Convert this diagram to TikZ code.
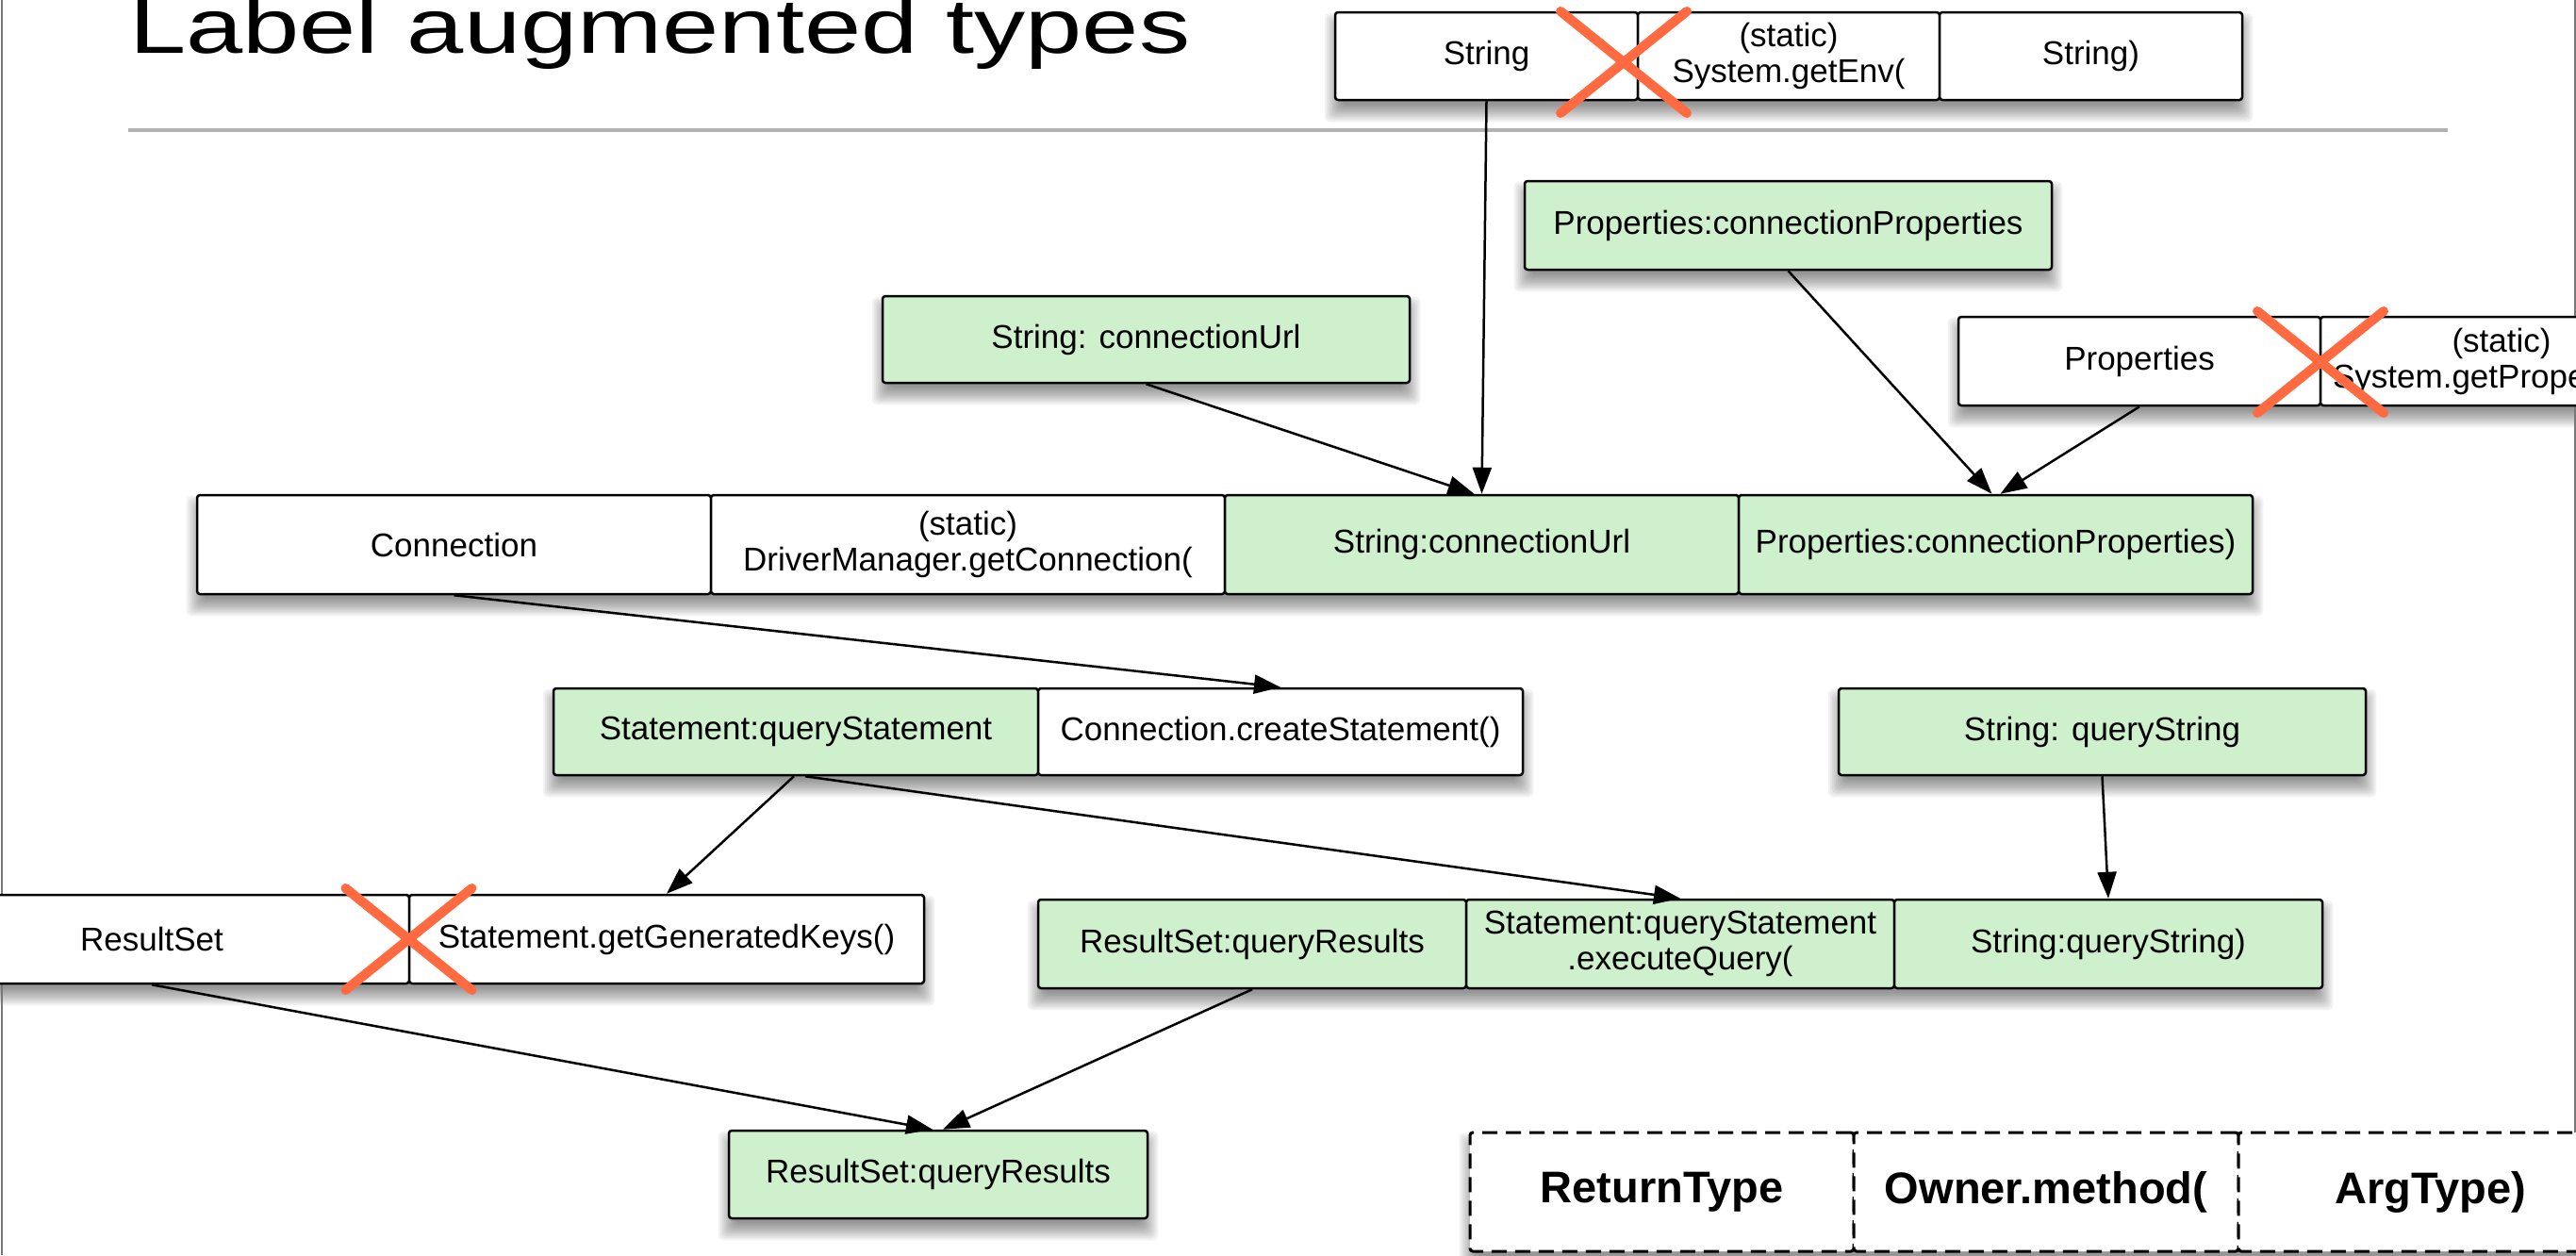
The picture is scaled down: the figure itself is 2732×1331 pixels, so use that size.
\documentclass[tikz,border=0pt]{standalone}
\usepackage{fontspec}
\setmainfont{Liberation Sans}
\usetikzlibrary{arrows.meta,calc}

\pgfdeclarelayer{shadow}
\pgfsetlayers{shadow,main}

\definecolor{cellgreen}{RGB}{207,240,204}
\definecolor{crossred}{RGB}{255,106,64}
\definecolor{rulegray}{RGB}{178,178,178}
\definecolor{edgegray}{RGB}{120,120,120}

\tikzset{
  cell/.style={draw=black, line width=2.5pt, rounded corners=3pt, fill=white,
    inner sep=0pt, align=center, font=\fontsize{35}{38}\selectfont},
  greencell/.style={cell, fill=cellgreen},
  legendcell/.style={cell, line width=3pt, dash pattern=on 16pt off 9pt,
    font=\fontsize{47}{52}\selectfont\bfseries},
  flow/.style={line width=2.5pt, -{Triangle[length=28pt,width=20pt]}},
  crossline/.style={crossred, line width=10pt, line cap=round},
}

% soft drop shadow under a row of cells, from #1 (first cell) to #2 (last cell)
\newcommand{\softshadow}[2]{%
  \begin{pgfonlayer}{shadow}
    \foreach \k in {0,...,9}{
      \pgfmathsetmacro\shX{(\k-4)*2}
      \pgfmathsetmacro\shXn{-(\k-4)*2}
      \pgfmathsetmacro\shYt{-12+(\k-4)*2}
      \pgfmathsetmacro\shYb{-12-(\k-4)*2}
      \fill[black, opacity=0.05, rounded corners=5pt]
        ([xshift=\shXn pt, yshift=\shYt pt]#1.north west) rectangle
        ([xshift=\shX pt, yshift=\shYb pt]#2.south east);
    }
  \end{pgfonlayer}}

% red cross over a cell boundary
\newcommand{\crossat}[1]{%
  \draw[crossline] ($(#1)+(-67,-54)$) -- ($(#1)+(67,54)$);
  \draw[crossline] ($(#1)+(67,-54)$) -- ($(#1)+(-67,54)$);}

\begin{document}
\begin{tikzpicture}[x=1pt, y=-1pt]
\useasboundingbox (0,0) rectangle (2732,1331);
\clip (0,0) rectangle (2732,1331);

% slide edges and title rule
\draw[edgegray, line width=2pt] (1.5,0) -- (1.5,1331);
\draw[edgegray, line width=2pt] (2730.5,0) -- (2730.5,1331);
\draw[rulegray, line width=3.5pt] (136,138) -- (2596,138);

% title
\node[anchor=base west, inner sep=0pt] (title) at (137,56)
  {\fontsize{82}{90}\selectfont\scalebox{1.32}[1]{Label augmented types}};

% System.getEnv call
\node[cell, minimum width=321pt, minimum height=93pt] (envret) at (1576.5,59.5) {String};
\node[cell, minimum width=320pt, minimum height=93pt] (envcall) at (1897,59.5) {(static)\\System.getEnv(};
\node[cell, minimum width=321pt, minimum height=93pt] (envarg) at (2217.5,59.5) {String)};

% labelled variables
\node[greencell, minimum width=559pt, minimum height=94pt] (propvar) at (1896.5,239) {Properties:connectionProperties};
\node[greencell, minimum width=559pt, minimum height=92pt] (urlvar) at (1215.5,360) {String: connectionUrl};

% System.getProperties call
\node[cell, minimum width=384pt, minimum height=94pt] (propret) at (2269,383) {Properties};
\node[cell, minimum width=384pt, minimum height=94pt] (propcall) at (2653,383) {(static)\\System.getProperties()};

% DriverManager.getConnection call
\node[cell, minimum width=545pt, minimum height=105pt] (conn) at (481.5,577.5) {Connection};
\node[cell, minimum width=545pt, minimum height=105pt] (getconn) at (1026.5,577.5) {(static)\\DriverManager.getConnection(};
\node[greencell, minimum width=545pt, minimum height=105pt] (urlarg) at (1571.5,577.5) {String:connectionUrl};
\node[greencell, minimum width=545pt, minimum height=105pt] (proparg) at (2116.5,577.5) {Properties:connectionProperties)};

% createStatement call
\node[greencell, minimum width=514pt, minimum height=92pt] (stmtvar) at (844,776) {Statement:queryStatement};
\node[cell, minimum width=514pt, minimum height=92pt] (createstmt) at (1358,776) {Connection.createStatement()};
\node[greencell, minimum width=559pt, minimum height=92pt] (queryvar) at (2229.5,776) {String: queryString};

% getGeneratedKeys call
\node[cell, minimum width=546pt, minimum height=94pt] (keysret) at (161,996) {ResultSet};
\node[cell, minimum width=546pt, minimum height=94pt] (keyscall) at (707,996) {Statement.getGeneratedKeys()};

% executeQuery call
\node[greencell, minimum width=454pt, minimum height=94pt] (execret) at (1328,1001) {ResultSet:queryResults};
\node[greencell, minimum width=454pt, minimum height=94pt] (execcall) at (1782,1001) {Statement:queryStatement\\.executeQuery(};
\node[greencell, minimum width=454pt, minimum height=94pt] (execarg) at (2236,1001) {String:queryString)};

% resulting label
\node[greencell, minimum width=444pt, minimum height=93pt] (results) at (995,1245.5) {ResultSet:queryResults};

% legend
\node[legendcell, minimum width=407pt, minimum height=126pt] (legret) at (1762.5,1264) {ReturnType};
\node[legendcell, minimum width=408pt, minimum height=126pt] (legcall) at (2170,1264) {Owner.method(};
\node[legendcell, minimum width=407pt, minimum height=126pt] (legarg) at (2577.5,1264) {ArgType)};

% shadows
\softshadow{envret}{envarg}
\softshadow{propvar}{propvar}
\softshadow{urlvar}{urlvar}
\softshadow{propret}{propcall}
\softshadow{conn}{proparg}
\softshadow{stmtvar}{createstmt}
\softshadow{queryvar}{queryvar}
\softshadow{keysret}{keyscall}
\softshadow{execret}{execarg}
\softshadow{results}{results}
\softshadow{legret}{legarg}

% data flow
\draw[flow] (envret.south) -- (urlarg.north);
\draw[flow] (urlvar.south) -- ([xshift=-8pt]urlarg.north);
\draw[flow] (propvar.south) -- ([xshift=-4pt]proparg.north);
\draw[flow] (propret.south) -- ([xshift=5pt]proparg.north);
\draw[flow] (conn.south) -- (createstmt.north);
\draw[flow] ([xshift=-2pt]stmtvar.south) -- (keyscall.north);
\draw[flow] ([xshift=10pt]stmtvar.south) -- (execcall.north);
\draw[flow] (queryvar.south) -- (execarg.north);
\draw[flow] (keysret.south) -- ([xshift=-6pt]results.north);
\draw[flow] (execret.south) -- ([xshift=5pt]results.north);

% rejected sources
\coordinate (envx) at (1722,66);
\coordinate (propx) at (2461,384);
\coordinate (keysx) at (433.5,996);
\crossat{envx}
\crossat{propx}
\crossat{keysx}
\end{tikzpicture}
\end{document}
